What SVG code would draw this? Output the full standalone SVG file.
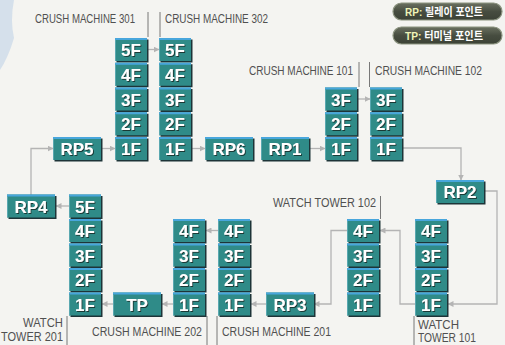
<svg xmlns="http://www.w3.org/2000/svg" xmlns:xlink="http://www.w3.org/1999/xlink" width="505" height="345" viewBox="0 0 505 345">
<style>
.lbl{font-family:"Liberation Sans",Arial,sans-serif;font-size:12px;fill:#505050}
.bt{font-family:"Liberation Sans",Arial,sans-serif;font-weight:bold;font-size:17px;fill:#ffffff;text-anchor:middle;filter:url(#tsh)}
.tick{stroke:#6a6a6a;stroke-width:0.9;fill:none}
.con{stroke:#b4b4b4;stroke-width:1.3;fill:none;marker-end:url(#ah)}
.pill{fill:url(#pg);stroke:#8c9480;stroke-width:1.2}
.lg{font-family:"Liberation Sans","Noto Sans CJK KR",sans-serif;font-weight:bold;font-size:11px;fill:#ffffff}
.lgk{fill:#eef4b8}
</style>
<defs>
<filter id="tsh" x="-20%" y="-20%" width="150%" height="150%">
<feDropShadow dx="1" dy="1" stdDeviation="0.3" flood-color="#12302f" flood-opacity="0.9"/>
</filter>
<linearGradient id="pg" x1="0" y1="0" x2="0" y2="1">
<stop offset="0" stop-color="#6a7060"/>
<stop offset="0.5" stop-color="#474d40"/>
<stop offset="1" stop-color="#3c4236"/>
</linearGradient>
<marker id="ah" markerWidth="6" markerHeight="6" refX="5.5" refY="3" orient="auto" markerUnits="userSpaceOnUse">
<path d="M0,0 L6,3 L0,6 z" fill="#b4b4b4"/>
</marker>
<g id="cb">
<rect x="1.5" y="1.5" width="32" height="23" fill="#1d3438"/>
<rect x="0" y="0" width="32" height="23" fill="#2f8b88"/>
<rect x="0" y="0" width="32" height="2" fill="#48a6dc"/>
<rect x="0" y="2" width="1" height="21" fill="#5aa8b0"/>
</g>
<g id="rb">
<rect x="1.5" y="1.5" width="48" height="23" fill="#1d3438"/>
<rect x="0" y="0" width="48" height="23" fill="#2f8b88"/>
<rect x="0" y="0" width="48" height="2" fill="#48a6dc"/>
<rect x="0" y="2" width="1" height="21" fill="#5aa8b0"/>
</g>
</defs>
<rect x="0" y="0" width="505" height="345" fill="#f4f4f1"/>
<path d="M0,0 L14,0 Q10,20 14,38 Q8,58 0,70 Z" fill="#cddbea" opacity="0.8"/>

<g id="legend">
<rect class="pill" x="393" y="3" width="109" height="17" rx="8.5"/>
<text class="lg" x="405" y="15.5" textLength="78" lengthAdjust="spacingAndGlyphs"><tspan class="lgk">RP:</tspan> 릴레이 포인트</text>
<rect class="pill" x="393" y="27" width="109" height="17" rx="8.5"/>
<text class="lg" x="405" y="39.5" textLength="78" lengthAdjust="spacingAndGlyphs"><tspan class="lgk">TP:</tspan> 터미널 포인트</text>
</g>

<g id="connectors">
<path class="con" d="M31,195 V148.5 H53"/>
<path class="con" d="M102,148.5 H115"/>
<path class="con" d="M147,49.5 H159"/>
<path class="con" d="M192,148.5 H205"/>
<path class="con" d="M310,148.5 H325"/>
<path class="con" d="M358,99 H370"/>
<path class="con" d="M403,148 H461 V180"/>
<path class="con" d="M485,191 H497 V304 H448"/>
<path class="con" d="M415,304 H400 V230.5 H380"/>
<path class="con" d="M347,230.5 H331 V304 H314"/>
<path class="con" d="M266,304 H251"/>
<path class="con" d="M218,230.5 H206"/>
<path class="con" d="M173,304 H162"/>
<path class="con" d="M113,304 H102"/>
<path class="con" d="M69,206 H56"/>
</g>

<g id="labels">
<text class="lbl" x="35" y="23" textLength="100" lengthAdjust="spacingAndGlyphs">CRUSH MACHINE 301</text>
<line class="tick" x1="148" y1="12" x2="148" y2="37"/>
<line class="tick" x1="160" y1="12" x2="160" y2="37"/>
<text class="lbl" x="165" y="23" textLength="103" lengthAdjust="spacingAndGlyphs">CRUSH MACHINE 302</text>
<text class="lbl" x="249" y="75" textLength="104" lengthAdjust="spacingAndGlyphs">CRUSH MACHINE 101</text>
<line class="tick" x1="359" y1="62" x2="359" y2="87"/>
<line class="tick" x1="369.5" y1="62" x2="369.5" y2="87"/>
<text class="lbl" x="375" y="75" textLength="107" lengthAdjust="spacingAndGlyphs">CRUSH MACHINE 102</text>
<text class="lbl" x="273" y="207" textLength="103" lengthAdjust="spacingAndGlyphs">WATCH TOWER 102</text>
<line class="tick" x1="380.5" y1="196" x2="380.5" y2="219"/>
<line class="tick" x1="414" y1="316" x2="414" y2="345"/>
<text class="lbl" x="418" y="329" textLength="41" lengthAdjust="spacingAndGlyphs">WATCH</text>
<text class="lbl" x="418" y="342" textLength="58" lengthAdjust="spacingAndGlyphs">TOWER 101</text>
<line class="tick" x1="67" y1="316" x2="67" y2="345"/>
<text class="lbl" x="63" y="327" text-anchor="end" textLength="40" lengthAdjust="spacingAndGlyphs">WATCH</text>
<text class="lbl" x="63" y="341" text-anchor="end" textLength="62" lengthAdjust="spacingAndGlyphs">TOWER 201</text>
<text class="lbl" x="92" y="336" textLength="110" lengthAdjust="spacingAndGlyphs">CRUSH MACHINE 202</text>
<line class="tick" x1="207" y1="316" x2="207" y2="345"/>
<line class="tick" x1="217" y1="316" x2="217" y2="345"/>
<text class="lbl" x="222" y="336" textLength="109" lengthAdjust="spacingAndGlyphs">CRUSH MACHINE 201</text>
</g>

<g id="cm301">
<use xlink:href="#cb" x="115" y="38"/><text class="bt" x="131" y="56">5F</text>
<use xlink:href="#cb" x="115" y="62.75"/><text class="bt" x="131" y="80.75">4F</text>
<use xlink:href="#cb" x="115" y="87.5"/><text class="bt" x="131" y="105.5">3F</text>
<use xlink:href="#cb" x="115" y="112.25"/><text class="bt" x="131" y="130.25">2F</text>
<use xlink:href="#cb" x="115" y="137"/><text class="bt" x="131" y="155">1F</text>
</g>
<g id="cm302">
<use xlink:href="#cb" x="159" y="38"/><text class="bt" x="175" y="56">5F</text>
<use xlink:href="#cb" x="159" y="62.75"/><text class="bt" x="175" y="80.75">4F</text>
<use xlink:href="#cb" x="159" y="87.5"/><text class="bt" x="175" y="105.5">3F</text>
<use xlink:href="#cb" x="159" y="112.25"/><text class="bt" x="175" y="130.25">2F</text>
<use xlink:href="#cb" x="159" y="137"/><text class="bt" x="175" y="155">1F</text>
</g>
<g id="rp5"><use xlink:href="#rb" x="53" y="137"/><text class="bt" x="77" y="155">RP5</text></g>
<g id="rp6"><use xlink:href="#rb" x="205" y="137"/><text class="bt" x="229" y="155">RP6</text></g>
<g id="rp1"><use xlink:href="#rb" x="261" y="137"/><text class="bt" x="285" y="155">RP1</text></g>
<g id="cm101">
<use xlink:href="#cb" x="325" y="87.5"/><text class="bt" x="341" y="105.5">3F</text>
<use xlink:href="#cb" x="325" y="112.25"/><text class="bt" x="341" y="130.25">2F</text>
<use xlink:href="#cb" x="325" y="137"/><text class="bt" x="341" y="155">1F</text>
</g>
<g id="cm102">
<use xlink:href="#cb" x="370" y="87.5"/><text class="bt" x="386" y="105.5">3F</text>
<use xlink:href="#cb" x="370" y="112.25"/><text class="bt" x="386" y="130.25">2F</text>
<use xlink:href="#cb" x="370" y="137"/><text class="bt" x="386" y="155">1F</text>
</g>
<g id="rp2"><use xlink:href="#rb" x="436" y="180"/><text class="bt" x="460" y="198">RP2</text></g>
<g id="rp4"><use xlink:href="#rb" x="7" y="194.5"/><text class="bt" x="31" y="212.5">RP4</text></g>
<g id="wt201">
<use xlink:href="#cb" x="69" y="194.5"/><text class="bt" x="85" y="212.5">5F</text>
<use xlink:href="#cb" x="69" y="219"/><text class="bt" x="85" y="237">4F</text>
<use xlink:href="#cb" x="69" y="243.5"/><text class="bt" x="85" y="261.5">3F</text>
<use xlink:href="#cb" x="69" y="268"/><text class="bt" x="85" y="286">2F</text>
<use xlink:href="#cb" x="69" y="292.5"/><text class="bt" x="85" y="310.5">1F</text>
</g>
<g id="tp"><use xlink:href="#rb" x="113" y="292.5"/><text class="bt" x="137" y="310.5">TP</text></g>
<g id="cm202">
<use xlink:href="#cb" x="173" y="219"/><text class="bt" x="189" y="237">4F</text>
<use xlink:href="#cb" x="173" y="243.5"/><text class="bt" x="189" y="261.5">3F</text>
<use xlink:href="#cb" x="173" y="268"/><text class="bt" x="189" y="286">2F</text>
<use xlink:href="#cb" x="173" y="292.5"/><text class="bt" x="189" y="310.5">1F</text>
</g>
<g id="cm201">
<use xlink:href="#cb" x="218" y="219"/><text class="bt" x="234" y="237">4F</text>
<use xlink:href="#cb" x="218" y="243.5"/><text class="bt" x="234" y="261.5">3F</text>
<use xlink:href="#cb" x="218" y="268"/><text class="bt" x="234" y="286">2F</text>
<use xlink:href="#cb" x="218" y="292.5"/><text class="bt" x="234" y="310.5">1F</text>
</g>
<g id="rp3"><use xlink:href="#rb" x="266" y="292.5"/><text class="bt" x="290" y="310.5">RP3</text></g>
<g id="wt102">
<use xlink:href="#cb" x="347" y="219"/><text class="bt" x="363" y="237">4F</text>
<use xlink:href="#cb" x="347" y="243.5"/><text class="bt" x="363" y="261.5">3F</text>
<use xlink:href="#cb" x="347" y="268"/><text class="bt" x="363" y="286">2F</text>
<use xlink:href="#cb" x="347" y="292.5"/><text class="bt" x="363" y="310.5">1F</text>
</g>
<g id="wt101">
<use xlink:href="#cb" x="415" y="219"/><text class="bt" x="431" y="237">4F</text>
<use xlink:href="#cb" x="415" y="243.5"/><text class="bt" x="431" y="261.5">3F</text>
<use xlink:href="#cb" x="415" y="268"/><text class="bt" x="431" y="286">2F</text>
<use xlink:href="#cb" x="415" y="292.5"/><text class="bt" x="431" y="310.5">1F</text>
</g>
</svg>
